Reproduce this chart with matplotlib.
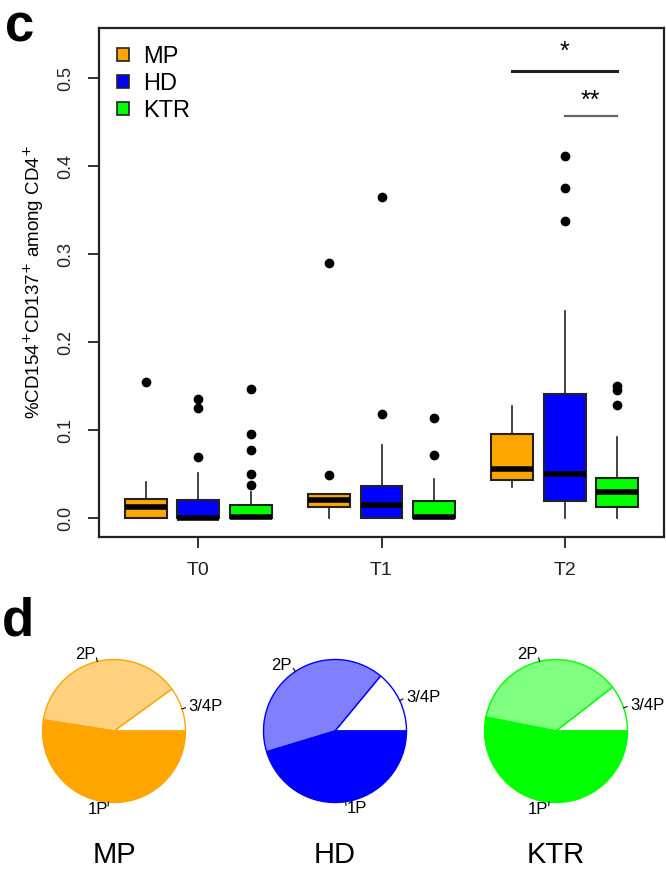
import matplotlib.pyplot as plt
import numpy as np

plt.rcParams['font.family'] = ['Liberation Sans', 'DejaVu Sans']

# panel c data
groups = ['MP', 'HD', 'KTR']
times = ['T0', 'T1', 'T2']
colors = ['#FFA500', '#0000FF', '#00FF00']
light_colors = ['#FFD280', '#8080FF', '#80FF80']

# order: T0 MP, T0 HD, T0 KTR, T1 MP, ... T2 KTR
med = [0.013, 0.0005, 0.001, 0.020, 0.0144, 0.001, 0.056, 0.0497, 0.0295]
q1 = [0.0, 0.0, 0.0, 0.013, 0.0, 0.0, 0.043, 0.0197, 0.013]
q3 = [0.0216, 0.021, 0.0144, 0.027, 0.036, 0.0197, 0.096, 0.1405, 0.046]
whislo = [0.0, 0.0, 0.0, 0.0, 0.0, 0.0, 0.0356, 0.0, 0.0]
whishi = [0.041, 0.051, 0.030, 0.027, 0.083, 0.0443, 0.127, 0.2356, 0.0917]
fliers = [[0.155],
          [0.135, 0.125, 0.069],
          [0.147, 0.095, 0.077, 0.050, 0.038],
          [0.0485, 0.290],
          [0.118, 0.365],
          [0.114, 0.072],
          [],
          [0.411, 0.375, 0.338],
          [0.150, 0.146, 0.128]]

# panel d data: fractions of 3/4P, 2P, 1P
pie_labels = ['3/4P', '2P', '1P']
pie_MP = [0.10, 0.375, 0.525]
pie_HD = [0.14, 0.407, 0.453]
pie_KTR = [0.105, 0.364, 0.531]
pies = [pie_MP, pie_HD, pie_KTR]

W, H = 666, 873
fig = plt.figure(figsize=(W / 100, H / 100), dpi=100)


def px_axes(left, top, right, bottom):
    return fig.add_axes([left / W, 1 - bottom / H, (right - left) / W, (bottom - top) / H])


# ---- panel c ----
ax = px_axes(99, 28, 664, 537)
positions = []
for g in range(3):
    for k in range(3):
        positions.append(1 + g * 3.5 + k)

stats = []
for i in range(9):
    stats.append(dict(med=med[i], q1=q1[i], q3=q3[i], whislo=whislo[i],
                      whishi=whishi[i], fliers=fliers[i]))

bp = ax.bxp(stats, positions=positions, widths=0.8, patch_artist=True,
            showcaps=False,
            boxprops=dict(edgecolor='#222222', linewidth=1.5),
            medianprops=dict(color='black', linewidth=4, solid_capstyle='butt'),
            whiskerprops=dict(color='#222222', linewidth=1.2),
            flierprops=dict(marker='o', markerfacecolor='black',
                            markeredgecolor='black', markersize=6))
for i, box in enumerate(bp['boxes']):
    box.set_facecolor(colors[i % 3])

ax.set_xlim(0.1, 10.9)
ax.set_ylim(-0.0216, 0.557)
ax.set_yticks([0.0, 0.1, 0.2, 0.3, 0.4, 0.5])
ax.set_yticklabels(['0.0', '0.1', '0.2', '0.3', '0.4', '0.5'], rotation=90, va='center')
ax.set_xticks([positions[1], positions[4], positions[7]])
ax.set_xticklabels(times)
ax.tick_params(axis='y', length=8, width=1.3, pad=10, labelsize=13, colors='#222222')
ax.tick_params(axis='x', length=8, width=1.3, pad=10, labelsize=14, colors='#222222')
for s in ax.spines.values():
    s.set_linewidth(1.6)
    s.set_color('#222222')
ax.set_ylabel('%CD154$^{+}$CD137$^{+}$ among CD4$^{+}$', fontsize=13.5, labelpad=8)

# legend
handles = [plt.Rectangle((0, 0), 1, 1, facecolor=c, edgecolor='#222222', linewidth=1.2)
           for c in colors]
ax.legend(handles, groups, loc='upper left', frameon=False, fontsize=17,
          handlelength=0.5, handleheight=0.5, handletextpad=0.6,
          labelspacing=0.22, borderaxespad=0.35)

# significance bars
ax.plot([positions[6], positions[8]], [0.508, 0.508], color='#222222', lw=2.2)
ax.text(positions[7], 0.516, '*', ha='center', va='bottom', fontsize=18)
ax.plot([positions[7], positions[8]], [0.457, 0.457], color='#666666', lw=1.6)
ax.text((positions[7] + positions[8]) / 2, 0.461, '**', ha='center', va='bottom', fontsize=18)

fig.text(5 / W, 1 - 2 / H, 'c', fontsize=38, fontweight='bold', va='top', ha='left')
fig.text(2 / W, 1 - 596 / H, 'd', fontsize=38, fontweight='bold', va='top', ha='left')

# ---- panel d ----
centers_x = [114, 335, 556]
cy = 731
r = 71.5
for j in range(3):
    cx = centers_x[j]
    pax = px_axes(cx - 1.25 * r, cy - 1.25 * r, cx + 1.25 * r, cy + 1.25 * r)
    wedges, texts = pax.pie(pies[j], labels=pie_labels, startangle=0, counterclock=True,
                            colors=['white', light_colors[j], colors[j]],
                            labeldistance=1.1,
                            wedgeprops=dict(edgecolor=colors[j], linewidth=1.0),
                            textprops=dict(fontsize=12))
    for w in wedges:
        a = np.deg2rad((w.theta1 + w.theta2) / 2)
        pax.plot([np.cos(a), 1.05 * np.cos(a)], [np.sin(a), 1.05 * np.sin(a)],
                 color='black', lw=0.8, clip_on=False)
    pax.set_xlim(-1.25, 1.25)
    pax.set_ylim(-1.25, 1.25)
    fig.text(cx / W, 1 - 855 / H, groups[j], fontsize=21, ha='center', va='center')

fig.savefig('out.png', dpi=100)
